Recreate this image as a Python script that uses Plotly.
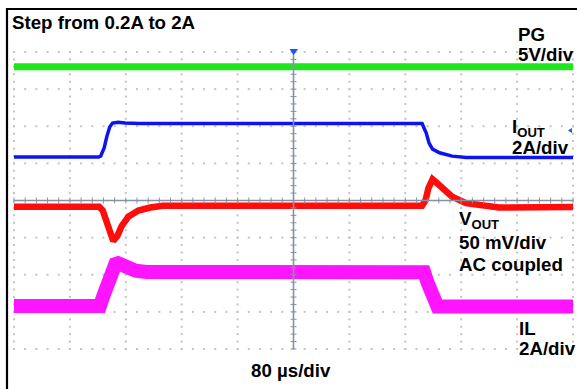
import plotly.graph_objects as go

# ---------------- data (time in µs, trigger at centre) ----------------
pg_t = [-400, 400]
pg_v = [5.0, 5.0]

iout_t = [-400, -279, -276, -271, -267, -263, -259, -251, -241, -220,
          184, 190, 194, 199, 209, 227, 247, 400]
iout_a = [0.20, 0.20, 0.25, 0.69, 1.33, 1.82, 2.03, 2.07, 2.04, 2.01,
          2.01, 1.49, 0.95, 0.63, 0.43, 0.25, 0.18, 0.18]

vout_t = [-400, -278, -273, -268, -263, -258, -252, -246, -236, -222, -205, -187,
          184, 189, 193, 199, 204, 213, 227, 247, 270, 294, 400]
vout_mv = [-1, -1, -6, -20, -37, -47, -40, -27, -14, -6, -2, 0.5,
           0.5, 8, 24, 36, 32, 24, 12.5, 4, 0, -2, -1.3]

il_t = [-400, -277, -272, -266, -260, -255, -251, -246, -238, -226, -210, -134,
        187, 192, 197, 201, 206, 400]
il_a = [0.20, 0.20, 0.75, 1.55, 2.15, 2.45, 2.50, 2.42, 2.25, 2.10, 2.03, 2.01,
        2.01, 1.44, 0.90, 0.36, 0.17, 0.17]

# channel settings: (units per division, ground position in divisions)
PG_SCALE, PG_POS = 5.0, 2.6
IOUT_SCALE, IOUT_POS = 2.0, 1.07
VOUT_SCALE, VOUT_POS = 50.0, -0.15
IL_SCALE, IL_POS = 2.0, -2.94

T_DIV = 80
N_XDIV, N_YDIV = 10, 8

# ---------------- layout geometry ----------------
W, H = 577, 389
L, R, T, B = 14, 573, 52, 349
PW, PH = R - L, B - T


def xp(px):
    return (px - L) / PW


def yp(py):
    return (B - py) / PH


def ch_range(scale, pos):
    return [(-N_YDIV / 2 - pos) * scale, (N_YDIV / 2 - pos) * scale]


fig = go.Figure()

# graticule dots
gx, gy = [], []
for i in range(N_XDIV + 1):
    xv = -400 + i * T_DIV
    if xv == 0:
        continue
    for j in range(N_YDIV * 5 + 1):
        gx.append(xv)
        gy.append(-4 + j * 0.2)
for i in range(N_YDIV + 1):
    yv = -4 + i
    if yv == 0:
        continue
    for j in range(N_XDIV * 5 + 1):
        gx.append(-400 + j * T_DIV / 5)
        gy.append(yv)
fig.add_trace(go.Scatter(x=gx, y=gy, mode="markers", xaxis="x", yaxis="y",
                         marker=dict(size=2, color="#c4c4c4", symbol="square"),
                         hoverinfo="skip", showlegend=False, cliponaxis=False))

fig.add_trace(go.Scatter(x=pg_t, y=pg_v, mode="lines", yaxis="y2",
                         line=dict(color="#1ee61e", width=7), showlegend=False))
fig.add_trace(go.Scatter(x=iout_t, y=iout_a, mode="lines", yaxis="y3",
                         line=dict(color="#0c14f0", width=3.5), showlegend=False))
fig.add_trace(go.Scatter(x=il_t, y=il_a, mode="lines", yaxis="y5",
                         line=dict(color="#ff14ff", width=14), showlegend=False))
fig.add_trace(go.Scatter(x=vout_t, y=vout_mv, mode="lines", yaxis="y4",
                         line=dict(color="#ff0c0c", width=6.5), showlegend=False))

hidden = dict(visible=False, showgrid=False, zeroline=False, fixedrange=True)
fig.update_layout(
    width=W, height=H,
    margin=dict(l=L, r=W - R, t=T, b=H - B, pad=0),
    paper_bgcolor="white", plot_bgcolor="white",
    xaxis=dict(range=[-400, 400], **hidden),
    yaxis=dict(range=[-4, 4], **hidden),
    yaxis2=dict(range=ch_range(PG_SCALE, PG_POS), overlaying="y", **hidden),
    yaxis3=dict(range=ch_range(IOUT_SCALE, IOUT_POS), overlaying="y", **hidden),
    yaxis4=dict(range=ch_range(VOUT_SCALE, VOUT_POS), overlaying="y", **hidden),
    yaxis5=dict(range=ch_range(IL_SCALE, IL_POS), overlaying="y", **hidden),
    showlegend=False,
)

shapes = []
axis_col = "#8593a3"
# centre axes
shapes.append(dict(type="line", xref="paper", yref="paper", x0=0.5, x1=0.5, y0=0, y1=1,
                   line=dict(color=axis_col, width=1.6), layer="above"))
shapes.append(dict(type="line", xref="paper", yref="paper", x0=0, x1=1, y0=0.5, y1=0.5,
                   line=dict(color=axis_col, width=1.6), layer="above"))
for j in range(N_YDIV * 5 + 1):
    yy = j / (N_YDIV * 5)
    shapes.append(dict(type="line", xref="paper", yref="paper",
                       x0=0.5 - 3 / PW, x1=0.5 + 3 / PW, y0=yy, y1=yy,
                       line=dict(color=axis_col, width=1), layer="above"))
for j in range(N_XDIV * 5 + 1):
    xx = j / (N_XDIV * 5)
    shapes.append(dict(type="line", xref="paper", yref="paper",
                       x0=xx, x1=xx, y0=0.5 - 3 / PH, y1=0.5 + 3 / PH,
                       line=dict(color=axis_col, width=1), layer="above"))
# frame (top and left black border)
shapes.append(dict(type="line", xref="paper", yref="paper",
                   x0=xp(6), x1=xp(580), y0=yp(9), y1=yp(9),
                   line=dict(color="black", width=2.2), layer="above"))
shapes.append(dict(type="line", xref="paper", yref="paper",
                   x0=xp(7), x1=xp(7), y0=yp(8), y1=yp(395),
                   line=dict(color="black", width=2.2), layer="above"))
# trigger marker
shapes.append(dict(type="path", xref="paper", yref="paper",
                   path=f"M {xp(289.5)} {yp(49)} L {xp(298)} {yp(49)} L {xp(293.7)} {yp(55)} Z",
                   fillcolor="#1a55ff", line=dict(width=0), layer="above"))
# channel marker (IOUT)
shapes.append(dict(type="path", xref="paper", yref="paper",
                   path=f"M {xp(568)} {yp(130.5)} L {xp(572)} {yp(128)} L {xp(572)} {yp(133)} Z",
                   fillcolor="#1a55ff", line=dict(width=0), layer="above"))
fig.update_layout(shapes=shapes)

FONT = dict(family="Arial, Liberation Sans, sans-serif", size=18.7, color="black")


def label(text, px, py_mid, anchor="left"):
    fig.add_annotation(text=f"<b>{text}</b>", xref="paper", yref="paper",
                       x=xp(px), y=yp(py_mid), xanchor=anchor, yanchor="middle",
                       showarrow=False, font=FONT, borderpad=0)


label("Step from 0.2A to 2A", 11, 23)
label("PG", 517, 34.5)
label("5V/div", 517, 54.5)
label("I<sub>OUT</sub>", 511, 127.5)
label("2A/div", 511, 147)
label("V<sub>OUT</sub>", 458, 220)
label("50 mV/div", 458, 242)
label("AC coupled", 458, 264)
label("IL", 518, 328)
label("2A/div", 518, 348.5)
label("80 µs/div", 291, 371, anchor="center")

fig.write_html("out.html", config={"displayModeBar": False},
               post_script="document.body.style.margin='0';document.body.style.overflow='hidden';")
